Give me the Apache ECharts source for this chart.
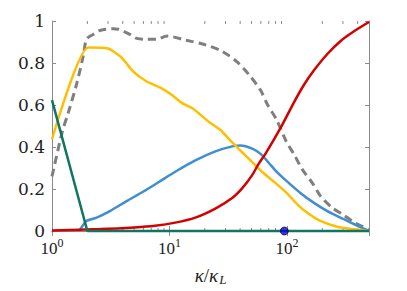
<!DOCTYPE html>
<html><head><meta charset="utf-8">
<script src="https://cdn.jsdelivr.net/npm/echarts@6/dist/echarts.min.js"></script>
<style>html,body{margin:0;padding:0;background:#fff}#c{width:407px;height:291px}</style>
</head><body><div id="c"></div>
<script>
// ---- data ----
const xTickExponents = [0, 1, 2];
const yTickValues = [0, 0.2, 0.4, 0.6, 0.8, 1];
const minorTickValues = [2,3,4,5,6,7,8,9,20,30,40,50,60,70,80,90,200,300,400];

const greenX = [1, 2, 500];
const greenY = [0.623, 0, 0];

const orangeX = [1, 2.03, 3.0, 3.9, 4.9, 6.4, 8.3, 10.5, 12.8, 15.6, 18.3, 22.2, 27, 34.2, 41.6, 50.6, 61.6, 77.5, 100, 123, 149, 193, 268, 372, 500];
const orangeY = [0.437, 0.874, 0.869, 0.827, 0.760, 0.712, 0.684, 0.648, 0.609, 0.586, 0.554, 0.515, 0.482, 0.422, 0.375, 0.328, 0.281, 0.235, 0.180, 0.126, 0.087, 0.048, 0.020, 0.008, 0];

const grayX = [1, 1.22, 1.37, 1.62, 1.84, 1.97, 2.24, 2.56, 3.32, 3.67, 4.61, 5.27, 6.42, 7.8, 9.55, 13.9, 19.8, 27.6, 37.9, 48.1, 59.5, 68.5, 81.5, 98, 116, 136, 166, 194, 245, 300, 380, 480, 500];
const grayY = [0.26, 0.47, 0.56, 0.70, 0.83, 0.913, 0.936, 0.955, 0.963, 0.961, 0.936, 0.917, 0.913, 0.913, 0.928, 0.908, 0.888, 0.858, 0.804, 0.741, 0.671, 0.601, 0.531, 0.43, 0.361, 0.291, 0.226, 0.165, 0.109, 0.078, 0.039, 0.011, 0];

const blueX = [1.70, 1.85, 1.97, 2.40, 3.11, 4.32, 6.0, 8.05, 11.2, 16.6, 24.6, 34.2, 40.3, 50.6, 60, 70, 80, 100.8, 131, 170, 221, 306, 400, 500];
const blueY = [0, 0.03, 0.048, 0.064, 0.095, 0.142, 0.188, 0.232, 0.282, 0.336, 0.379, 0.403, 0.407, 0.392, 0.366, 0.325, 0.288, 0.235, 0.18, 0.134, 0.095, 0.056, 0.025, 0];

const redX = [1, 2.56, 5, 7.54, 11.2, 16.6, 24.6, 34.2, 41.7, 50.6, 57.6, 65.6, 91.5, 114, 139, 170, 221, 287, 373, 500];
const redY = [0.002, 0.009, 0.017, 0.025, 0.04, 0.064, 0.107, 0.157, 0.204, 0.266, 0.321, 0.367, 0.507, 0.609, 0.694, 0.765, 0.843, 0.905, 0.951, 0.995];

const dotX = [95];
const dotY = [0];

// ---- build ----
const pairs = (xs, ys) => xs.map((x, i) => [x, ys[i]]);
const AX = '#8a8a8a';
const TXT = '#222';
const FONT_Y = 'DejaVu Serif';
const FONT_X = 'Times New Roman';
const FONT_N = 'serif';

function xLabel(v) {
  const l = Math.log10(v);
  const e = Math.round(l);
  if (Math.abs(l - e) > 1e-6 || xTickExponents.indexOf(e) < 0) return '';
  return '{b|10}{sup|' + e + '}';
}

function lineSeries(xs, ys, color, extra) {
  return Object.assign({
    type: 'line', xAxisIndex: 0, yAxisIndex: 0,
    data: pairs(xs, ys), symbol: 'none', showSymbol: false,
    smooth: 0.3,
    lineStyle: { color: color, width: 2.5 },
    clip: false, animation: false
  }, extra || {});
}

const chart = echarts.init(document.getElementById('c'), null, { renderer: 'svg' });
const logAxisBase = {
  type: 'log', logBase: 10, min: 1, max: 500,
  splitLine: { show: false },
  axisLine: { show: true, lineStyle: { color: AX, width: 1 } },
  axisTick: { show: true, inside: true, length: 5, lineStyle: { color: AX, width: 1 } },
};
const valAxisBase = {
  type: 'value', min: 0, max: 1, interval: 0.2,
  splitLine: { show: false },
  axisLine: { show: true, lineStyle: { color: AX, width: 1 } },
  axisTick: { show: true, inside: true, length: 4, lineStyle: { color: AX, width: 1 } },
};

chart.setOption({
  animation: false,
  grid: { left: 52, right: 38, top: 21, bottom: 56, containLabel: false },
  xAxis: [
    Object.assign({}, logAxisBase, {
      position: 'bottom',
      axisLabel: {
        formatter: xLabel, margin: 6, fontFamily: FONT_X,
        rich: {
          b: { fontSize: 17, fontFamily: FONT_X, color: TXT, lineHeight: 20, verticalAlign: 'bottom' },
          sup: { fontSize: 12, fontFamily: FONT_X, color: TXT, lineHeight: 20, verticalAlign: 'top' }
        }
      },
      name: '{k|κ}{s|/}{k|κ}{sub|L}',
      nameLocation: 'middle', nameGap: 33,
      nameTextStyle: {
        fontFamily: FONT_N,
        rich: {
          k: { fontSize: 19, fontFamily: FONT_N, fontStyle: 'italic', color: TXT, lineHeight: 22, verticalAlign: 'middle' },
          s: { fontSize: 19, fontFamily: FONT_N, color: TXT, lineHeight: 22, verticalAlign: 'middle' },
          sub: { fontSize: 13, fontFamily: FONT_N, fontStyle: 'italic', color: TXT, lineHeight: 22, verticalAlign: 'bottom', padding: [0, 0, 0, 1] }
        }
      }
    }),
    Object.assign({}, logAxisBase, {
      position: 'top',
      axisLabel: { show: false }
    })
  ],
  yAxis: [
    Object.assign({}, valAxisBase, {
      position: 'left',
      axisLabel: {
        margin: 7, fontSize: 17, fontFamily: FONT_Y, color: TXT,
        formatter: v => (yTickValues.some(t => Math.abs(t - v) < 1e-9) ? String(+v.toFixed(1)) : '')
      }
    }),
    Object.assign({}, valAxisBase, {
      position: 'right',
      axisLabel: { show: false }
    })
  ],
  series: [
    {
      type: 'custom', xAxisIndex: 0, yAxisIndex: 0, silent: true, clip: false,
      data: minorTickValues.map(v => [v]),
      renderItem: function (params, api) {
        const v = api.value(0);
        const b = api.coord([v, 0]);
        const t = api.coord([v, 1]);
        const st = { stroke: AX, lineWidth: 1 };
        return {
          type: 'group', children: [
            { type: 'line', shape: { x1: b[0], y1: b[1], x2: b[0], y2: b[1] - 3 }, style: st },
            { type: 'line', shape: { x1: t[0], y1: t[1], x2: t[0], y2: t[1] + 3 }, style: st }
          ]
        };
      },
      z: 1
    },
    lineSeries(grayX, grayY, '#7f7f7f', { lineStyle: { color: '#7f7f7f', width: 3, type: [8, 5] } }),
    lineSeries(blueX, blueY, '#3f8ed2'),
    lineSeries(orangeX, orangeY, '#ffbf00', { smooth: 0.2 }),
    lineSeries(redX, redY, '#d40000'),
    lineSeries(greenX, greenY, '#117563', { smooth: false }),
    {
      type: 'scatter', xAxisIndex: 0, yAxisIndex: 0,
      data: pairs(dotX, dotY), symbolSize: 8, clip: false,
      itemStyle: { color: '#0a00e6', borderColor: '#000', borderWidth: 0.8 },
      z: 5
    }
  ]
});
</script>
</body></html>
